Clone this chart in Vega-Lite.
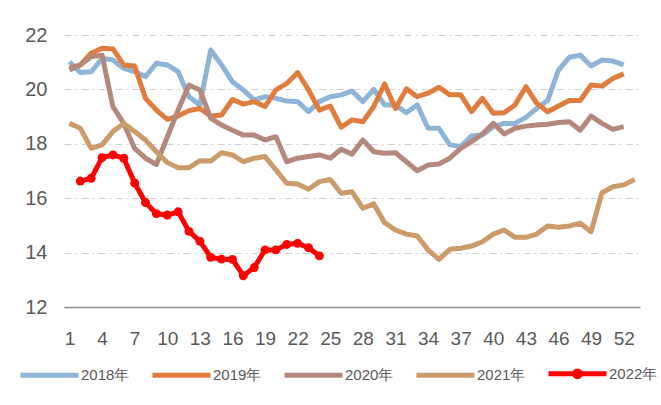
{
  "$schema": "https://vega.github.io/schema/vega-lite/v6.json",
  "width": 576,
  "height": 272,
  "autosize": {"type": "none"},
  "padding": {"left": 64, "top": 35, "right": 21, "bottom": 98},
  "background": "white",
  "config": {"view": {"stroke": null}, "font": "Liberation Sans"},
  "data": {"values": [
    {"week": 1, "2018年": 21.02, "2019年": 20.77, "2020年": 20.71, "2021年": 18.75},
    {"week": 2, "2018年": 20.62, "2019年": 20.9, "2020年": 20.9, "2021年": 18.57, "2022年": 16.63},
    {"week": 3, "2018年": 20.65, "2019年": 21.33, "2020年": 21.2, "2021年": 17.83, "2022年": 16.73},
    {"week": 4, "2018年": 21.14, "2019年": 21.51, "2020年": 21.26, "2021年": 17.96, "2022年": 17.49},
    {"week": 5, "2018年": 21.08, "2019年": 21.49, "2020年": 19.37, "2021年": 18.45, "2022年": 17.59},
    {"week": 6, "2018年": 20.77, "2019年": 20.9, "2020年": 18.75, "2021年": 18.75, "2022年": 17.47},
    {"week": 7, "2018年": 20.65, "2019年": 20.86, "2020年": 17.83, "2021年": 18.45, "2022年": 16.56},
    {"week": 8, "2018年": 20.47, "2019年": 19.67, "2020年": 17.47, "2021年": 18.14, "2022年": 15.84},
    {"week": 9, "2018年": 20.96, "2019年": 19.24, "2020年": 17.24, "2021年": 17.71, "2022年": 15.43},
    {"week": 10, "2018年": 20.9, "2019年": 18.9, "2020年": 18.25, "2021年": 17.31, "2022年": 15.38},
    {"week": 11, "2018年": 20.65, "2019年": 19.02, "2020年": 19.24, "2021年": 17.12, "2022年": 15.5},
    {"week": 12, "2018年": 19.73, "2019年": 19.22, "2020年": 20.16, "2021年": 17.12, "2022年": 14.78},
    {"week": 13, "2018年": 19.43, "2019年": 19.3, "2020年": 19.98, "2021年": 17.38, "2022年": 14.42},
    {"week": 14, "2018年": 21.45, "2019年": 19.02, "2020年": 18.94, "2021年": 17.37, "2022年": 13.83},
    {"week": 15, "2018年": 20.9, "2019年": 19.06, "2020年": 18.69, "2021年": 17.67, "2022年": 13.76},
    {"week": 16, "2018年": 20.28, "2019年": 19.63, "2020年": 18.5, "2021年": 17.59, "2022年": 13.75},
    {"week": 17, "2018年": 19.98, "2019年": 19.46, "2020年": 18.32, "2021年": 17.34, "2022年": 13.15},
    {"week": 18, "2018年": 19.61, "2019年": 19.55, "2020年": 18.32, "2021年": 17.47, "2022年": 13.45},
    {"week": 19, "2018年": 19.73, "2019年": 19.37, "2020年": 18.14, "2021年": 17.53, "2022年": 14.1},
    {"week": 20, "2018年": 19.67, "2019年": 19.98, "2020年": 18.26, "2021年": 17.04, "2022年": 14.1},
    {"week": 21, "2018年": 19.57, "2019年": 20.22, "2020年": 17.34, "2021年": 16.55, "2022年": 14.3},
    {"week": 22, "2018年": 19.55, "2019年": 20.62, "2020年": 17.47, "2021年": 16.52, "2022年": 14.34},
    {"week": 23, "2018年": 19.18, "2019年": 19.98, "2020年": 17.53, "2021年": 16.33, "2022年": 14.18},
    {"week": 24, "2018年": 19.55, "2019年": 19.24, "2020年": 17.59, "2021年": 16.61, "2022年": 13.88},
    {"week": 25, "2018年": 19.73, "2019年": 19.39, "2020年": 17.47, "2021年": 16.69},
    {"week": 26, "2018年": 19.8, "2019年": 18.61, "2020年": 17.8, "2021年": 16.18},
    {"week": 27, "2018年": 19.94, "2019年": 18.88, "2020年": 17.62, "2021年": 16.24},
    {"week": 28, "2018年": 19.55, "2019年": 18.81, "2020年": 18.14, "2021年": 15.63},
    {"week": 29, "2018年": 20.0, "2019年": 19.37, "2020年": 17.71, "2021年": 15.79},
    {"week": 30, "2018年": 19.43, "2019年": 20.2, "2020年": 17.65, "2021年": 15.1},
    {"week": 31, "2018年": 19.43, "2019年": 19.3, "2020年": 17.67, "2021年": 14.83},
    {"week": 32, "2018年": 19.14, "2019年": 20.02, "2020年": 17.34, "2021年": 14.68},
    {"week": 33, "2018年": 19.43, "2019年": 19.73, "2020年": 17.01, "2021年": 14.61},
    {"week": 34, "2018年": 18.57, "2019年": 19.86, "2020年": 17.22, "2021年": 14.1},
    {"week": 35, "2018年": 18.57, "2019年": 20.08, "2020年": 17.26, "2021年": 13.75},
    {"week": 36, "2018年": 17.96, "2019年": 19.8, "2020年": 17.47, "2021年": 14.12},
    {"week": 37, "2018年": 17.9, "2019年": 19.8, "2020年": 17.83, "2021年": 14.16},
    {"week": 38, "2018年": 18.29, "2019年": 19.18, "2020年": 18.08, "2021年": 14.24},
    {"week": 39, "2018年": 18.33, "2019年": 19.67, "2020年": 18.36, "2021年": 14.4},
    {"week": 40, "2018年": 18.63, "2019年": 19.12, "2020年": 18.75, "2021年": 14.68},
    {"week": 41, "2018年": 18.75, "2019年": 19.14, "2020年": 18.36, "2021年": 14.83},
    {"week": 42, "2018年": 18.75, "2019年": 19.43, "2020年": 18.57, "2021年": 14.56},
    {"week": 43, "2018年": 18.97, "2019年": 20.1, "2020年": 18.65, "2021年": 14.56},
    {"week": 44, "2018年": 19.3, "2019年": 19.49, "2020年": 18.69, "2021年": 14.68},
    {"week": 45, "2018年": 19.59, "2019年": 19.18, "2020年": 18.72, "2021年": 14.98},
    {"week": 46, "2018年": 20.71, "2019年": 19.39, "2020年": 18.78, "2021年": 14.93},
    {"week": 47, "2018年": 21.18, "2019年": 19.59, "2020年": 18.81, "2021年": 14.98},
    {"week": 48, "2018年": 21.26, "2019年": 19.59, "2020年": 18.5, "2021年": 15.08},
    {"week": 49, "2018年": 20.86, "2019年": 20.16, "2020年": 19.02, "2021年": 14.77},
    {"week": 50, "2018年": 21.08, "2019年": 20.12, "2020年": 18.75, "2021年": 16.2},
    {"week": 51, "2018年": 21.04, "2019年": 20.4, "2020年": 18.53, "2021年": 16.42},
    {"week": 52, "2018年": 20.9, "2019年": 20.57, "2020年": 18.63, "2021年": 16.49},
    {"week": 53, "2021年": 16.69}
  ]},
  "transform": [
    {"fold": ["2018年", "2019年", "2020年", "2021年", "2022年"], "as": ["series", "value"]},
    {"filter": "isValid(datum.value)"}
  ],
  "encoding": {
    "x": {
      "field": "week", "type": "quantitative",
      "scale": {"domain": [0.5, 53.5], "nice": false, "zero": false},
      "axis": {
        "values": [1, 4, 7, 10, 13, 16, 19, 22, 25, 28, 31, 34, 37, 40, 43, 46, 49, 52],
        "grid": false, "ticks": false, "domain": true,
        "domainColor": "#8C8C8C", "domainWidth": 1.5,
        "labelFontSize": 19, "labelColor": "#595959", "labelPadding": 22,
        "labelFlush": false, "labelOverlap": false, "labelSeparation": 0, "labelBound": false, "title": null
      }
    },
    "y": {
      "field": "value", "type": "quantitative",
      "scale": {"domain": [12, 22], "nice": false, "zero": false},
      "axis": {
        "values": [12, 14, 16, 18, 20, 22],
        "grid": true, "gridColor": "#D0D0D0", "gridDash": [7, 4, 2, 4], "gridWidth": 1,
        "domain": false, "ticks": false, "labelOverlap": false,
        "labelFontSize": 20, "labelColor": "#595959", "labelPadding": 17, "title": null
      }
    }
  },
  "layer": [
    {
      "mark": {"type": "line", "strokeJoin": "round", "strokeCap": "butt"},
      "encoding": {
        "color": {
          "field": "series", "type": "nominal",
          "scale": {
            "domain": ["2018年", "2019年", "2020年", "2021年", "2022年"],
            "range": ["#8EB4D8", "#E07C3E", "#B5887E", "#CB9B6A", "#FF0000"]
          },
          "legend": {
            "orient": "none", "legendX": -46, "legendY": 307,
            "direction": "horizontal", "columns": 5, "title": null,
            "symbolType": "stroke", "symbolSize": 3364, "symbolStrokeWidth": 5,
            "labelFontSize": 15, "labelColor": "#595959", "labelFont": "Liberation Sans",
            "columnPadding": 12, "labelOffset": 0, "padding": 0, "labelLimit": 100,
            "encode": {
              "symbols": {
                "update": {
                  "shape": {"signal": "datum.value === '2022年' ? 'M-1,0L1,0M-0.1,0A0.1,0.1,0,1,0,0.1,0A0.1,0.1,0,1,0,-0.1,0Z' : 'stroke'"},
                  "fill": {"signal": "datum.value === '2022年' ? '#FF0000' : 'transparent'"},
                  "strokeWidth": {"signal": "datum.value === '2022年' ? 4 : 5"}
                }
              }
            }
          }
        },
        "strokeWidth": {
          "field": "series", "type": "ordinal",
          "scale": {
            "domain": ["2018年", "2019年", "2020年", "2021年", "2022年"],
            "range": [5, 5, 5, 5, 4]
          },
          "legend": null
        }
      }
    },
    {
      "transform": [{"filter": "datum.series === '2022年'"}],
      "mark": {"type": "point", "filled": true, "size": 80, "opacity": 1, "color": "#FF0000"},
      "encoding": {}
    }
  ]
}
